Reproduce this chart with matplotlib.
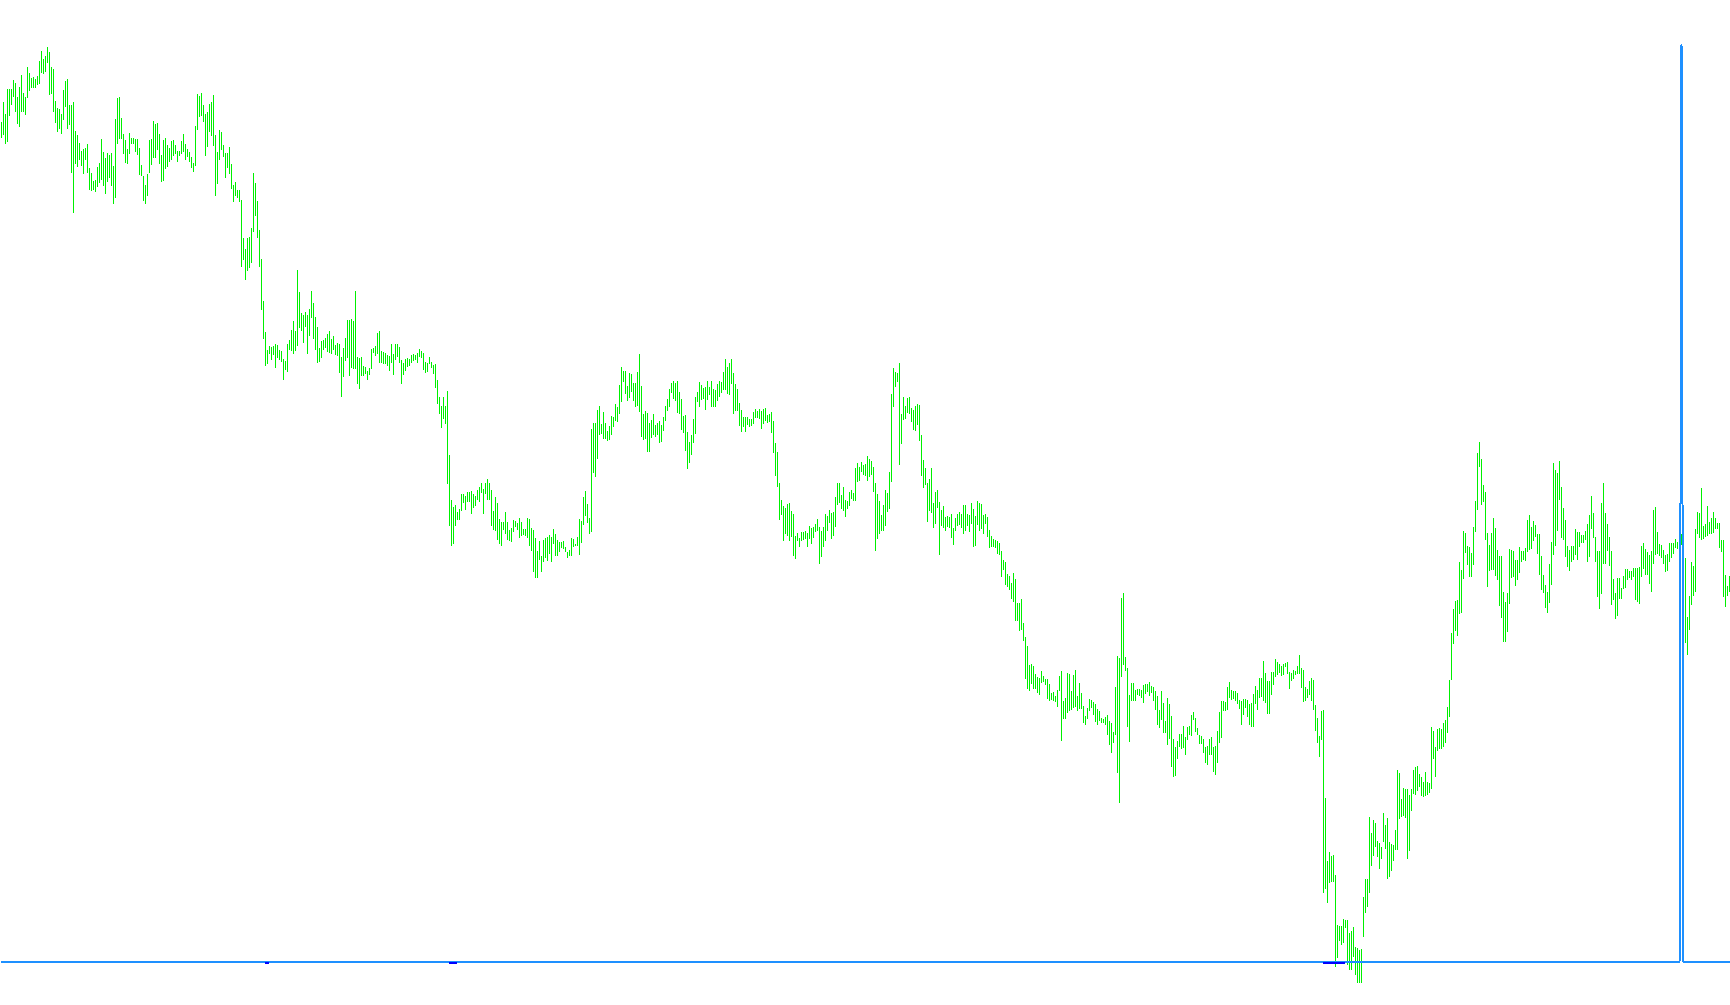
import numpy as np
import matplotlib
matplotlib.use('Agg')
import matplotlib.pyplot as plt

# bar highs / lows (price points), one per bar, left to right
high = [
    2635, 2695, 2658, 2733, 2733, 2733, 2760, 2751, 2709, 2739, 2775, 2721, 2709, 2799, 2781, 2766, 2769, 2763, 2772, 2817,
    2847, 2823, 2833, 2859, 2844, 2799, 2793, 2697, 2676, 2673, 2658, 2730, 2757, 2763, 2685, 2685, 2694, 2607, 2595, 2571,
    2547, 2553, 2557, 2569, 2496, 2481, 2457, 2461, 2499, 2511, 2583, 2544, 2527, 2541, 2535, 2541, 2503, 2643, 2705, 2709,
    2646, 2599, 2581, 2553, 2601, 2587, 2587, 2583, 2583, 2557, 2505, 2473, 2445, 2479, 2581, 2583, 2637, 2629, 2631, 2599,
    2535, 2581, 2587, 2565, 2557, 2577, 2581, 2565, 2547, 2547, 2577, 2599, 2567, 2553, 2545, 2529, 2511, 2623, 2719, 2713,
    2721, 2685, 2659, 2665, 2689, 2695, 2715, 2595, 2545, 2611, 2605, 2565, 2541, 2541, 2559, 2509, 2445, 2453, 2431, 2431,
    2399, 2287, 2253, 2287, 2289, 2317, 2481, 2451, 2397, 2311, 2223, 2097, 2005, 1951, 1963, 1959, 1963, 1969, 1965, 1951,
    1947, 1923, 1917, 1969, 1981,
    2010, 2037, 2007, 2190, 2124, 2061, 2055, 2065, 2055, 2073, 2127, 2091, 2049, 2019, 1956, 1977, 1980, 1986, 1998, 2007,
    1983, 1993, 1965, 1971, 1969, 1929, 1956, 1986, 2040, 2041, 2043, 2037, 2127, 1929, 1927, 1929, 1903, 1899, 1888, 1896,
    1953, 1957, 1963, 2001, 2007, 1947, 1943, 1941, 1935, 1933, 1969, 1939, 1969, 1969, 1959, 1919, 1911, 1923, 1927, 1923,
    1935, 1939, 1935, 1941, 1953, 1947, 1941, 1915, 1911, 1929, 1915, 1905, 1909, 1861, 1809, 1783, 1809, 1783, 1827, 1635,
    1501, 1479, 1485, 1465, 1473, 1517, 1519, 1511, 1523, 1525, 1527, 1519, 1513, 1529, 1539, 1551, 1533, 1551, 1563, 1551,
    1531, 1467, 1509, 1491, 1443, 1433, 1433, 1463, 1433, 1409, 1417, 1439, 1437, 1431, 1447, 1433, 1413, 1413, 1445, 1443,
    1415, 1409, 1387, 1347, 1377, 1331, 1379, 1387, 1389, 1395, 1389, 1413, 1399, 1379, 1373, 1373, 1377, 1359, 1343, 1349,
    1387, 1383, 1369, 1389,
    1444, 1438, 1508, 1528, 1488, 1446, 1714, 1730, 1732, 1770, 1782, 1728, 1764, 1730, 1708, 1722, 1752, 1748, 1788, 1778,
    1844, 1898, 1886, 1886, 1842, 1880, 1878, 1852, 1852, 1884, 1938, 1842, 1758, 1766, 1762, 1732, 1740, 1758, 1724, 1730,
    1738, 1726, 1750, 1782, 1804, 1834, 1852, 1858, 1850, 1858, 1824, 1804, 1752, 1754, 1704, 1674, 1696, 1744, 1810, 1824,
    1854, 1846, 1836, 1838, 1856, 1840, 1856, 1834, 1830, 1848, 1856, 1854, 1884, 1924, 1900, 1910, 1924, 1880, 1848, 1832,
    1790, 1770, 1748, 1750, 1748, 1744, 1744, 1764, 1772, 1766, 1772, 1768, 1772, 1776, 1756, 1758, 1764, 1738, 1672, 1644,
    1552, 1500, 1482, 1476, 1488, 1492, 1468, 1458, 1392, 1400, 1386, 1404, 1404, 1408, 1400, 1422, 1416, 1418, 1428, 1442,
    1420, 1408, 1418, 1458, 1452, 1470, 1462, 1464, 1508, 1550, 1550, 1516, 1538, 1500, 1496, 1524, 1530, 1520, 1596, 1612,
    1600, 1614, 1604, 1608,
    1632, 1624, 1618, 1600, 1552, 1518, 1498, 1456, 1486, 1530, 1522, 1584, 1818, 1896, 1884, 1882, 1912, 1758, 1810, 1782,
    1806, 1810, 1776, 1770, 1782, 1788, 1786, 1696, 1620, 1596, 1552, 1564, 1596, 1492, 1524, 1530, 1494, 1470, 1482, 1448,
    1452, 1448, 1458, 1416, 1446, 1458, 1464, 1458, 1486, 1486, 1458, 1454, 1492, 1474, 1452, 1498, 1492, 1488, 1456, 1458,
    1450, 1410, 1392, 1384, 1380, 1376, 1372, 1346, 1320, 1314, 1278, 1272, 1250, 1280, 1264, 1190, 1190, 1204, 1132, 1090,
    1062, 1006, 1008, 1002, 978, 970, 966, 988, 972, 964, 964, 948, 922, 924, 912, 930, 972, 988, 898, 906,
    982, 978, 928, 976, 990, 912, 952, 922, 882, 852, 876, 904, 900, 894, 888, 872, 868, 846, 844, 850,
    856, 838, 832, 804, 938, 1032, 1026, 1206, 1222, 1030, 996, 914, 952, 952, 930, 934, 934, 930, 944, 948,
    948, 954, 942, 938,
    928, 912, 870, 928, 892, 838, 906, 888, 852, 784, 760, 776, 798, 798, 822, 788, 820, 822, 856, 864,
    846, 816, 796, 792, 784, 760, 762, 784, 790, 760, 762, 808, 864, 896, 898, 894, 940, 954, 930, 928,
    926, 922, 900, 898, 904, 902, 900, 888, 890, 918, 942, 930, 966, 966, 1016, 980, 958, 956, 984, 984,
    1022, 1014, 1008, 1002, 1008, 1012, 1014, 984, 982, 990, 988, 1002, 1036, 996, 990, 940, 932, 958, 966, 960,
    886, 846, 792, 866, 870, 606, 418, 444, 432, 436, 376, 226, 222, 222, 244, 240, 240, 202, 206, 220,
    158, 156, 150, 154, 310, 364, 364, 550, 502, 540, 532, 478, 472, 458, 560, 526, 546, 474, 468, 466,
    510, 690, 682, 604, 636, 634, 634, 616, 634, 690, 700, 702, 678, 668, 654, 684, 654, 650, 820, 806,
    760, 812, 816, 812,
    830, 840, 880, 960, 1100, 1173, 1197, 1201, 1315, 1291, 1407, 1401, 1363, 1359, 1341, 1419, 1497, 1641, 1673, 1623,
    1545, 1525, 1401, 1365, 1401, 1447, 1417, 1351, 1333, 1333, 1225, 1195, 1221, 1353, 1351, 1347, 1321, 1321, 1359, 1347,
    1347, 1357, 1441, 1455, 1419, 1437, 1425, 1397, 1399, 1333, 1275, 1245, 1225, 1309, 1375, 1611, 1591, 1581, 1617, 1539,
    1475, 1441, 1363, 1349, 1363, 1363, 1413, 1405, 1405, 1395, 1395, 1407, 1429, 1455, 1513, 1461, 1389, 1347, 1347, 1491,
    1551, 1461, 1427, 1389, 1347, 1263, 1221, 1265, 1267, 1235, 1273, 1293, 1293, 1287, 1287, 1297, 1295, 1297, 1299, 1363,
    1371, 1353, 1343, 1335, 1347, 1471, 1479, 1405, 1367, 1365, 1349, 1335, 1339, 1371, 1371, 1371, 1383, 1373, 1383, 1397,
    1389, 1327, 1149, 1213, 1315, 1301, 1413, 1465, 1461, 1537, 1421, 1429, 1483, 1433, 1447, 1465, 1445, 1431, 1431, 1381,
    1381, 1275, 1243, 1273,
]

low = [
    2587, 2595, 2569, 2575, 2653, 2685, 2710, 2665, 2629, 2619, 2665, 2665, 2655, 2705, 2727, 2737, 2737, 2737, 2745, 2747,
    2781, 2779, 2785, 2811, 2715, 2719, 2665, 2631, 2605, 2613, 2599, 2639, 2679, 2614, 2625, 2481, 2362, 2509, 2500, 2521,
    2503, 2479, 2521, 2481, 2431, 2427, 2431, 2425, 2439, 2451, 2461, 2441, 2417, 2455, 2465, 2443, 2387, 2407, 2569, 2583,
    2583, 2539, 2511, 2509, 2539, 2569, 2569, 2545, 2535, 2475, 2471, 2397, 2389, 2413, 2481, 2505, 2527, 2527, 2549, 2509,
    2453, 2457, 2493, 2499, 2513, 2521, 2531, 2537, 2513, 2533, 2537, 2545, 2519, 2529, 2513, 2495, 2483, 2503, 2611, 2649,
    2653, 2635, 2533, 2559, 2603, 2593, 2563, 2411, 2447, 2521, 2551, 2529, 2465, 2497, 2479, 2433, 2393, 2413, 2405, 2393,
    2199, 2219, 2161, 2187, 2195, 2211, 2303, 2353, 2287, 2199, 2069, 1983, 1903, 1909, 1939, 1919, 1935, 1897, 1925, 1919,
    1913, 1861, 1889, 1883, 1949,
    1948, 1939, 1947, 1963, 2017, 2007, 1971, 2019, 1939, 1993, 2047, 1983, 1951, 1911, 1915, 1925, 1949, 1955, 1945, 1941,
    1939, 1949, 1935, 1931, 1881, 1809, 1869, 1917, 1927, 1873, 1895, 1893, 1893, 1849, 1834, 1871, 1873, 1877, 1861, 1875,
    1893, 1941, 1933, 1939, 1911, 1911, 1909, 1909, 1901, 1887, 1911, 1875, 1919, 1929, 1911, 1849, 1875, 1887, 1899, 1903,
    1911, 1917, 1919, 1911, 1929, 1925, 1889, 1881, 1883, 1907, 1895, 1879, 1837, 1789, 1759, 1717, 1743, 1729, 1547, 1423,
    1363, 1369, 1421, 1439, 1441, 1467, 1491, 1469, 1495, 1493, 1457, 1477, 1483, 1499, 1495, 1521, 1457, 1519, 1501, 1501,
    1421, 1409, 1407, 1381, 1367, 1363, 1409, 1399, 1379, 1377, 1373, 1405, 1419, 1409, 1385, 1391, 1395, 1393, 1385, 1361,
    1347, 1285, 1267, 1265, 1321, 1283, 1315, 1325, 1317, 1339, 1313, 1369, 1333, 1333, 1345, 1355, 1353, 1343, 1327, 1331,
    1333, 1359, 1361, 1363,
    1336, 1372, 1426, 1452, 1432, 1398, 1404, 1582, 1570, 1624, 1696, 1698, 1684, 1682, 1678, 1680, 1694, 1718, 1738, 1734,
    1758, 1794, 1854, 1818, 1798, 1806, 1824, 1798, 1780, 1782, 1764, 1690, 1680, 1684, 1644, 1644, 1686, 1694, 1688, 1694,
    1670, 1674, 1708, 1736, 1766, 1780, 1822, 1802, 1798, 1760, 1758, 1710, 1702, 1646, 1594, 1612, 1634, 1672, 1698, 1794,
    1778, 1800, 1804, 1770, 1800, 1816, 1780, 1780, 1780, 1798, 1810, 1822, 1830, 1830, 1818, 1816, 1848, 1758, 1768, 1768,
    1722, 1704, 1720, 1704, 1724, 1720, 1722, 1728, 1746, 1746, 1744, 1714, 1728, 1738, 1730, 1734, 1700, 1640, 1572, 1540,
    1440, 1456, 1376, 1398, 1392, 1378, 1388, 1332, 1324, 1376, 1358, 1378, 1380, 1382, 1360, 1382, 1368, 1386, 1404, 1406,
    1308, 1330, 1360, 1378, 1408, 1432, 1384, 1392, 1420, 1486, 1492, 1474, 1468, 1450, 1474, 1482, 1504, 1498, 1498, 1554,
    1556, 1584, 1576, 1572,
    1558, 1570, 1576, 1524, 1348, 1384, 1398, 1408, 1408, 1422, 1464, 1472, 1554, 1780, 1840, 1854, 1606, 1668, 1740, 1744,
    1760, 1758, 1734, 1710, 1708, 1726, 1678, 1572, 1536, 1546, 1434, 1468, 1462, 1416, 1428, 1476, 1336, 1422, 1416, 1408,
    1420, 1416, 1386, 1366, 1408, 1422, 1426, 1416, 1398, 1408, 1422, 1404, 1428, 1360, 1362, 1426, 1408, 1412, 1398, 1428,
    1388, 1356, 1358, 1358, 1356, 1338, 1334, 1270, 1290, 1244, 1238, 1230, 1204, 1194, 1138, 1136, 1108, 1110, 1078, 964,
    934, 928, 948, 934, 934, 920, 916, 950, 954, 944, 904, 898, 900, 898, 894, 880, 926, 778, 842, 842,
    862, 868, 870, 876, 878, 868, 874, 874, 832, 824, 842, 868, 876, 856, 834, 826, 838, 830, 830, 824,
    796, 766, 742, 770, 796, 680, 592, 968, 1004, 986, 820, 774, 898, 898, 898, 916, 912, 906, 892, 918,
    924, 912, 922, 898,
    870, 824, 816, 840, 802, 802, 766, 784, 700, 670, 672, 722, 760, 754, 756, 736, 780, 796, 792, 840,
    804, 796, 768, 768, 742, 712, 706, 734, 736, 684, 676, 712, 772, 786, 866, 868, 870, 906, 900, 902,
    896, 888, 874, 826, 856, 876, 850, 824, 820, 818, 888, 870, 906, 908, 896, 892, 858, 858, 916, 944,
    968, 976, 980, 972, 976, 998, 978, 934, 958, 964, 976, 978, 978, 936, 894, 898, 906, 914, 896, 870,
    808, 772, 730, 780, 322, 332, 292, 352, 354, 354, 98, 126, 178, 166, 170, 216, 106, 90, 90, 130,
    76, 50, 52, 52, 188, 262, 280, 322, 402, 432, 460, 428, 394, 422, 474, 452, 362, 370, 388, 416,
    450, 450, 544, 548, 552, 546, 422, 446, 568, 618, 614, 628, 640, 612, 610, 612, 616, 622, 632, 722,
    670, 748, 754, 754,
    760, 770, 800, 850, 960, 1069, 1107, 1093, 1159, 1161, 1263, 1341, 1305, 1269, 1269, 1305, 1405, 1471, 1599, 1485,
    1495, 1381, 1239, 1287, 1289, 1291, 1273, 1259, 1183, 1147, 1073, 1073, 1105, 1187, 1265, 1269, 1243, 1261, 1281, 1315,
    1319, 1317, 1343, 1351, 1353, 1377, 1389, 1339, 1275, 1231, 1221, 1177, 1161, 1191, 1245, 1335, 1363, 1407, 1501, 1387,
    1381, 1329, 1299, 1287, 1315, 1321, 1335, 1321, 1359, 1371, 1371, 1379, 1315, 1329, 1413, 1387, 1315, 1209, 1173, 1219,
    1309, 1309, 1347, 1303, 1185, 1201, 1143, 1153, 1203, 1203, 1233, 1235, 1261, 1265, 1259, 1269, 1201, 1195, 1189, 1269,
    1293, 1275, 1275, 1249, 1225, 1309, 1335, 1337, 1333, 1327, 1309, 1283, 1287, 1313, 1327, 1337, 1357, 1353, 1355, 1365,
    1325, 1071, 1035, 1111, 1185, 1211, 1223, 1399, 1387, 1379, 1383, 1389, 1393, 1397, 1399, 1401, 1413, 1413, 1357, 1345,
    1209, 1179, 1213, 1225,
]

# indicator: flat at zero with a single spike
spike_bar = 840
spike_val = 1.0
# short runs of the second (dark blue) buffer, just under zero
zero_runs = [(132, 133), (224, 227), (661, 671)]
run_val = -0.0012

n = len(high)
idx = np.arange(n)
hi = np.array(high)
lo = np.array(low)
ind = np.zeros(n)
ind[spike_bar] = spike_val
sig = np.full(n, np.nan)
for a, b in zero_runs:
    sig[a:b + 1] = run_val

fig = plt.figure(figsize=(17.3, 10.05), dpi=100)
fig.patch.set_facecolor('white')
ax = fig.add_axes([0, 0, 1, 1])
# each bar is a 1px wide column from low to high
ax.bar(idx, hi - lo, bottom=lo, width=0.5, color='#00f000',
       linewidth=0, antialiased=False)
ax.set_xlim(-0.75, n - 0.75)
ax.set_ylim(-15, 3000)
ax.axis('off')

ax2 = ax.twinx()
ax2.plot(idx, ind, color='#1e90ff', linewidth=0.72, antialiased=False)
ax2.plot(idx, sig, color='#0000ff', linewidth=1.1, antialiased=False)
ax2.set_xlim(-0.75, n - 0.75)
ax2.set_ylim(-0.0469, 1.0491)
ax2.axis('off')

fig.savefig('out.png', dpi=100)
